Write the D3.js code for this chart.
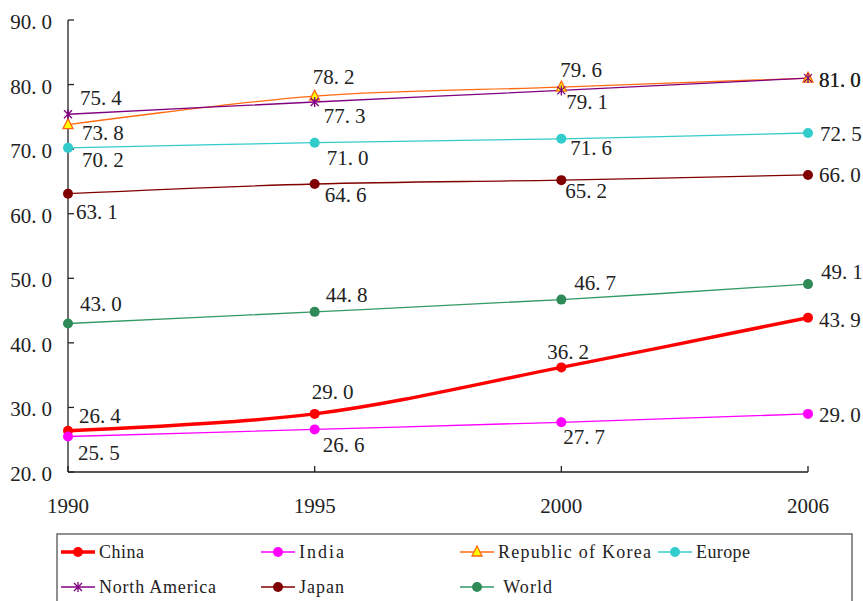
<!DOCTYPE html>
<html>
<head>
  <meta charset="UTF-8">
  <script src="https://d3js.org/d3.v7.min.js"></script>
  <title>Urbanization</title>
  <style>
    body { margin: 0; background: #fff; }
    svg { display: block; }
    .num { font-family: 'Liberation Serif', 'Times New Roman', Times, serif; font-size: 21px; fill: #222; }
    .leg { font-family: 'Liberation Serif', 'Times New Roman', Times, serif; font-size: 18px; fill: #222; }
  </style>
</head>
<body>
  <svg width="863" height="601"></svg>
  <script>
    // data
    const years = ["1990", "1995", "2000", "2006"];
    const yTicks = [20, 30, 40, 50, 60, 70, 80, 90];
    const china = [26.4, 29.0, 36.2, 43.9];
    const india = [25.5, 26.6, 27.7, 29.0];
    const korea = [73.8, 78.2, 79.6, 81.0];
    const europe = [70.2, 71.0, 71.6, 72.5];
    const northAmerica = [75.4, 77.3, 79.1, 81.0];
    const japan = [63.1, 64.6, 65.2, 66.0];
    const world = [43.0, 44.8, 46.7, 49.1];

    const svg = d3.select("svg");

    const x = d3.scalePoint().domain(years).range([68, 808]);
    const y = d3.scaleLinear().domain([20, 90]).range([472, 20]);

    // series styling + label offsets (dx from point to text left, dy to text centre)
    const series = [
      { name: "China", values: china, color: "#ff0000", width: 3.5, marker: "circle", mfill: "#ff0000",
        off: [[11, -15], [-3, -22], [-14, -15], [11, 2]] },
      { name: "India", values: india, color: "#ff00ff", width: 1.3, marker: "circle", mfill: "#ff00ff",
        off: [[10, 17], [8, 16], [2, 15], [11, 1]] },
      { name: "Republic of Korea", values: korea, color: "#ff6a10", width: 1.3, marker: "triangle", mfill: "#ffff00",
        off: [[14, 8], [-2, -19], [-1, -17], [11, 2]] },
      { name: "Europe", values: europe, color: "#33cccc", width: 1.3, marker: "circle", mfill: "#33cccc",
        off: [[14, 12], [12, 15], [9, 9], [12, 1]] },
      { name: "North America", values: northAmerica, color: "#800080", width: 1.3, marker: "star", mfill: "#800080",
        off: [[12, -16], [9, 14], [5, 12], [11, 2]] },
      { name: "Japan", values: japan, color: "#800000", width: 1.3, marker: "circle", mfill: "#800000",
        off: [[8, 18], [10, 11], [4, 11], [11, 0]] },
      { name: "World", values: world, color: "#339966", width: 1.3, marker: "circle", mfill: "#2e8b57",
        off: [[12, -19], [11, -17], [13, -17], [13, -12]] }
    ];

    // number text with a SimSun-like gap after the decimal point
    function numText(sel, v) {
      const s = v.toFixed(1).split(".");
      sel.append("tspan").text(s[0] + ".");
      sel.append("tspan").attr("dx", 5).text(s[1]);
    }

    function drawMarker(g, s, cx, cy) {
      if (s.marker === "circle") {
        g.append("circle").attr("cx", cx).attr("cy", cy).attr("r", 5).attr("fill", s.mfill);
      } else if (s.marker === "triangle") {
        g.append("path").attr("transform", `translate(${cx},${cy})`)
          .attr("d", "M0,-6L5,4L-5,4Z")
          .attr("fill", s.mfill).attr("stroke", s.color).attr("stroke-width", 1.3);
      } else {
        g.append("path").attr("transform", `translate(${cx},${cy})`)
          .attr("d", "M-4,-4L4,4M-4,4L4,-4M0,-5L0,5")
          .attr("stroke", s.color).attr("stroke-width", 1.3).attr("fill", "none");
      }
    }

    // axes
    const axisG = svg.append("g").attr("stroke", "#222").attr("stroke-width", 1.3).attr("fill", "none");
    axisG.append("line").attr("x1", 68).attr("x2", 68).attr("y1", y(90)).attr("y2", y(20));
    axisG.append("line").attr("x1", 68).attr("x2", 808).attr("y1", y(20)).attr("y2", y(20));
    yTicks.forEach(t => {
      axisG.append("line").attr("x1", 68).attr("x2", 74).attr("y1", y(t)).attr("y2", y(t));
    });
    years.forEach(yr => {
      axisG.append("line").attr("x1", x(yr)).attr("x2", x(yr)).attr("y1", y(20)).attr("y2", y(20) - 6);
    });

    yTicks.forEach(t => {
      const tx = svg.append("text").attr("class", "num").attr("x", 52).attr("y", y(t) + 9)
        .attr("text-anchor", "end");
      numText(tx, t);
    });
    years.forEach(yr => {
      svg.append("text").attr("class", "num").attr("x", x(yr)).attr("y", 513)
        .attr("text-anchor", "middle").text(yr);
    });

    // lines
    const line = d3.line()
      .x((d, i) => x(years[i]))
      .y(d => y(d))
      .curve(d3.curveCatmullRom.alpha(0.5));

    series.forEach(s => {
      svg.append("path").datum(s.values)
        .attr("d", line)
        .attr("fill", "none")
        .attr("stroke", s.color)
        .attr("stroke-width", s.width);
    });

    series.forEach(s => {
      const g = svg.append("g");
      s.values.forEach((v, i) => drawMarker(g, s, x(years[i]), y(v)));
    });

    // data labels
    series.forEach(s => {
      s.values.forEach((v, i) => {
        const tx = svg.append("text").attr("class", "num")
          .attr("x", x(years[i]) + s.off[i][0])
          .attr("y", y(v) + s.off[i][1] + 7);
        numText(tx, v);
      });
    });

    // legend
    svg.append("rect").attr("x", 57).attr("y", 534).attr("width", 795).attr("height", 80)
      .attr("fill", "#fff").attr("stroke", "#555").attr("stroke-width", 1.3);

    const legCols = [61, 261, 460, 658];
    const legRows = [552, 587];
    series.forEach((s, i) => {
      const col = i < 4 ? i : i - 4;
      const row = i < 4 ? 0 : 1;
      const lx = legCols[col], ly = legRows[row];
      const g = svg.append("g");
      g.append("line").attr("x1", lx).attr("x2", lx + 34).attr("y1", ly).attr("y2", ly)
        .attr("stroke", s.color).attr("stroke-width", s.width);
      drawMarker(g, s, lx + 17, ly);
      const label = s.name === "World" ? " World" : s.name;
      const t = g.append("text").attr("class", "leg")
        .attr("x", lx + 38).attr("y", ly + 6)
        .attr("xml:space", "preserve")
        .text(label);
      t.attr("textLength", label.length * 9).attr("lengthAdjust", "spacing");
    });
  </script>
</body>
</html>
